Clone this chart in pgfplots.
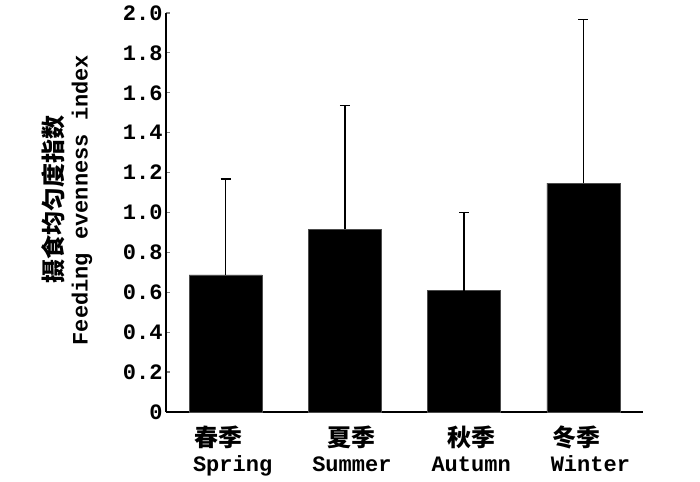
\documentclass[border=0pt]{standalone}
\usepackage{fontspec}
\setmainfont{Liberation Mono}
\newfontfamily\cjk{Noto Sans CJK SC}
\usepackage{pgfplots}
\pgfplotsset{compat=1.18}
\begin{document}
\begin{tikzpicture}
\path[use as bounding box] (0,0) rectangle (700pt,481pt);
\begin{axis}[
    at={(166pt,69pt)}, anchor=south west,
    scale only axis,
    width=477pt, height=399pt,
    xmin=-0.5, xmax=3.5,
    ymin=0, ymax=2.0,
    axis x line=bottom, axis y line=left,
    axis line style={-, line width=1.5pt},
    xtick={0,1,2,3},
    xticklabels={
        {{\cjk\fontsize{24}{25}\selectfont 春季}\rule{28pt}{0pt}\\Spring},
        {{\cjk\fontsize{24}{25}\selectfont 夏季}\\Summer},
        {{\cjk\fontsize{24}{25}\selectfont 秋季}\\Autumn},
        {{\cjk\fontsize{24}{25}\selectfont 冬季}\rule{28pt}{0pt}\\Winter}},
    xtick style={draw=none},
    xticklabel style={align=center, font=\fontsize{22}{25}\selectfont\bfseries,
        xshift=7pt, yshift=-6pt},
    ytick={0,0.2,...,2.0},
    yticklabels={0,0.2,0.4,0.6,0.8,1.0,1.2,1.4,1.6,1.8,2.0},
    yticklabel style={font=\fontsize{22}{25}\selectfont\bfseries},
    tick align=inside,
    major tick length=4pt,
    ytick style={line width=1.2pt},
    ybar, bar width=73pt,
    clip=false,
]
\addplot[fill=black, draw=black!70, line width=0.5pt,
    error bars/.cd, y dir=plus, y explicit,
    error mark=-,
    error bar style={black, line width=1.3pt},
    error mark options={rotate=90, black, line width=1.3pt, mark size=5pt}]
    coordinates {
    (0,0.687) +- (0,0.481)
    (1,0.917) +- (0,0.618)
    (2,0.608) +- (0,0.393)
    (3,1.147) +- (0,0.820)
};
\end{axis}
\node[rotate=90, align=center, font=\fontsize{22}{25}\selectfont\bfseries]
    at (67pt,281pt) {{\cjk\fontsize{24}{25}\selectfont 摄食均匀度指数}\\Feeding evenness index};
\end{tikzpicture}
\end{document}
